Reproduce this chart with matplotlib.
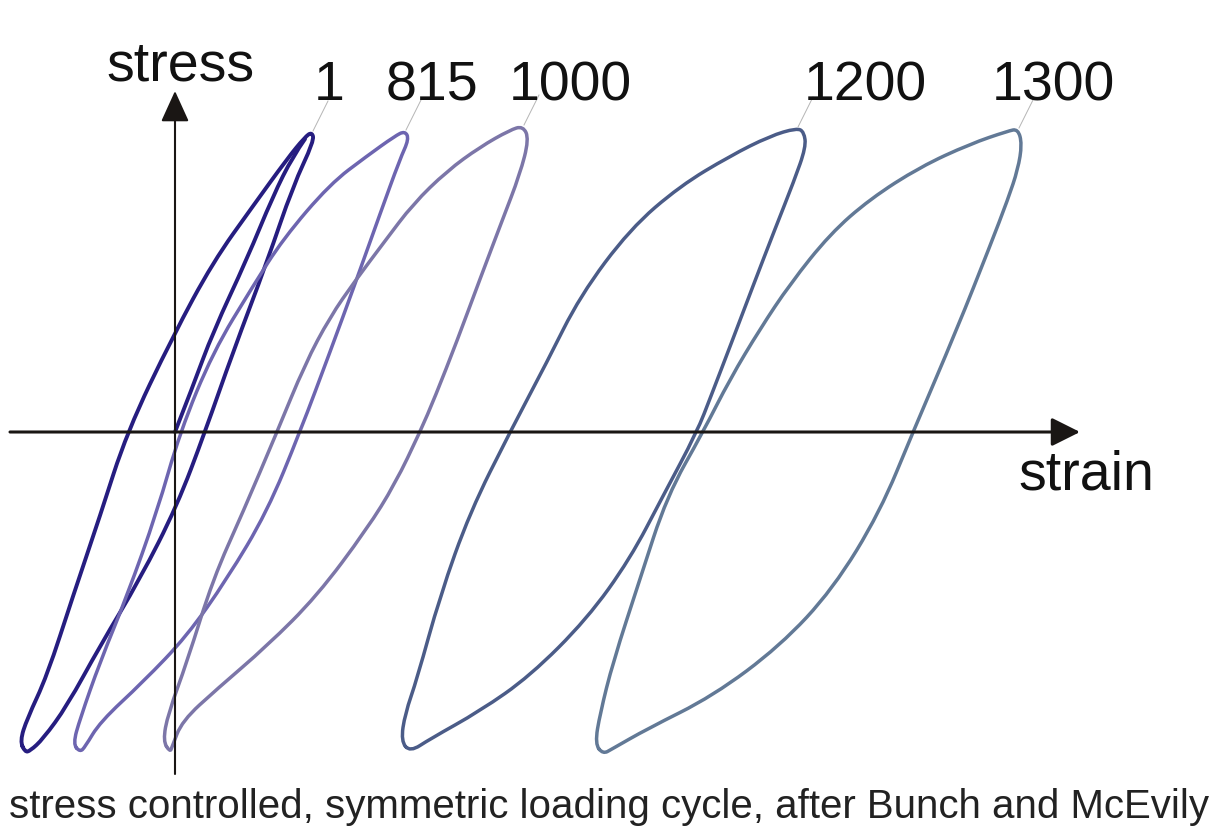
import numpy as np
import matplotlib.pyplot as plt
from matplotlib.path import Path
from matplotlib.patches import PathPatch

plt.rcParams['font.family'] = ['Liberation Sans', 'DejaVu Sans']

# cycle numbers written above the loops
cycles = ['1', '815', '1000', '1200', '1300']
colors = ['#261d80', '#6d65b0', '#7c76a8', '#4b5c88', '#627996']

# loops (strain / stress in picture units, 0 where the axes cross)
# each one starts at the compressive tip, goes up the loading branch and back down
strain_1 = [-150, -155, -148, -128, -102, -75, -48, -2, 38, 78, 112, 130, 137, 139, 118, 92, 58, 30, 2, -35, -75, -108, -132, -145]
stress_1 = [-320, -309, -287, -244, -164, -84, 0, 96, 170, 226, 273, 295, 300, 291, 246, 170, 80, 0, -74, -147, -214, -274, -307, -319]

strain_815 = [-95, -102, -95, -75, -48, -18, 5, 38, 78, 108, 155, 192, 220, 230, 234, 225, 205, 180, 155, 125, 92, 52, 12, -32, -75, -90]
stress_815 = [-320, -312, -287, -230, -164, -80, 0, 80, 146, 193, 248, 276, 296, 301, 293, 273, 218, 148, 80, 0, -80, -147, -204, -250, -290, -315]

strain_1000 = [-5, -12, -7, 12, 38, 68, 102, 130, 155, 180, 210, 238, 272, 305, 335, 348, 354, 345, 327, 305, 282, 260, 245, 220, 192, 142, 92, 42, 7, -3]
stress_1000 = [-320, -309, -282, -230, -147, -80, 0, 68, 115, 151, 191, 228, 261, 285, 302, 306, 293, 258, 211, 153, 91, 35, 0, -52, -97, -164, -214, -257, -289, -315]

strain_1200 = [235, 226, 230, 242, 265, 295, 335, 372, 405, 455, 505, 555, 595, 622, 629, 631, 619, 600, 578, 556, 536, 522, 488, 455, 412, 355, 305, 255]
stress_1200 = [-320, -309, -282, -247, -164, -80, 0, 70, 136, 203, 246, 276, 296, 304, 300, 285, 251, 203, 146, 88, 36, 0, -64, -127, -187, -244, -279, -307]

strain_1300 = [428, 420, 425, 438, 465, 492, 528, 555, 585, 615, 655, 695, 745, 795, 833, 843, 847, 843, 833, 815, 782, 738, 705, 658, 605, 538, 472, 437]
stress_1300 = [-322, -312, -282, -230, -147, -64, 0, 53, 103, 148, 198, 233, 265, 288, 301, 303, 288, 263, 233, 186, 103, 0, -80, -157, -214, -264, -297, -317]

# first loading of cycle 1, from the origin up to the tip
strain_0 = [0, 18, 38, 72, 98, 118, 130]
stress_0 = [0, 46, 100, 173, 236, 276, 293]

loops = [(strain_1, stress_1), (strain_815, stress_815), (strain_1000, stress_1000),
         (strain_1200, stress_1200), (strain_1300, stress_1300)]

# where the cycle numbers sit (left edge, baseline)
label_x = [139, 211, 334, 629, 817]
label_y = 333


def smooth_path(x, y, closed):
    # quadratic curve through the midpoints, read points act as control points
    p = np.column_stack([x, y]).astype(float)
    if closed:
        p = np.vstack([p, p[:2]])
        verts = [(p[0] + p[1]) / 2]
        for i in range(1, len(p) - 1):
            verts += [p[i], (p[i] + p[i + 1]) / 2]
    else:
        verts = [p[0]]
        for i in range(1, len(p) - 2):
            verts += [p[i], (p[i] + p[i + 1]) / 2]
        verts += [p[-2], p[-1]]
    codes = [Path.MOVETO] + [Path.CURVE3] * (len(verts) - 1)
    return Path(verts, codes)


fig = plt.figure(figsize=(12.27, 8.28), dpi=100)
ax = fig.add_axes([0, 0, 1, 1])
ax.set_xlim(-175, 1052)
ax.set_ylim(-395, 433)
ax.axis('off')

# axes drawn as arrows through the origin
axc = '#1a1614'
ax.annotate('', xy=(905, 0), xytext=(-165, 0),
            arrowprops=dict(arrowstyle='-|>,head_length=0.5,head_width=0.25', lw=2.2,
                            color=axc, mutation_scale=35, shrinkA=0, shrinkB=0))
ax.annotate('', xy=(0, 341), xytext=(0, -342),
            arrowprops=dict(arrowstyle='-|>,head_length=0.55,head_width=0.25', lw=1.5,
                            color=axc, mutation_scale=35, shrinkA=0, shrinkB=0))

ax.add_patch(PathPatch(smooth_path(strain_0, stress_0, False), fill=False,
                       edgecolor=colors[0], lw=2.8, capstyle='round', joinstyle='round'))

for (x, y), c, lab, lx in zip(loops, colors, cycles, label_x):
    ax.add_patch(PathPatch(smooth_path(x, y, True), fill=False, edgecolor=c,
                           lw=2.8 if lab == '1' else 2.5, capstyle='round', joinstyle='round'))
    i = int(np.argmax(y))
    ax.plot([x[i] + 1, x[i] + 16], [y[i] + 1, y[i] + 31], color='#b5b5b5', lw=0.7)
    ax.text(lx, label_y, lab, fontsize=40, color='#111111', ha='left', va='baseline')

ax.text(-69, 353, 'stress', fontsize=40, color='#111111', ha='left', va='baseline')
ax.text(843, -57, 'strain', fontsize=40, color='#111111', ha='left', va='baseline')
ax.text(-166, -385, 'stress controlled, symmetric loading cycle, after Bunch and McEvily',
        fontsize=29.0, color='#222222', ha='left', va='baseline')

fig.savefig('out.png', dpi=100)
